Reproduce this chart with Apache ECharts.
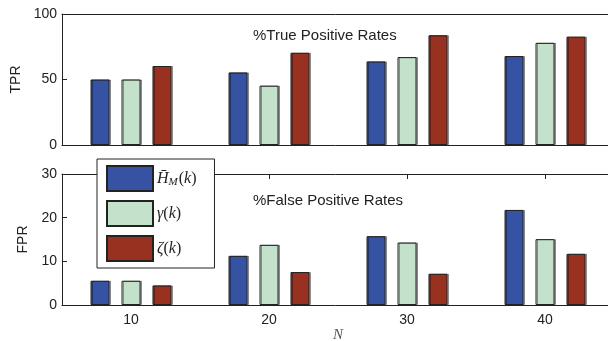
<!DOCTYPE html>
<html>
<head>
<meta charset="utf-8">
<script src="https://cdn.jsdelivr.net/npm/echarts@6/dist/echarts.min.js"></script>
<style>
  html, body { margin: 0; padding: 0; background: #fff; }
  #chart { width: 608px; height: 341px; }
</style>
</head>
<body>
<div id="chart"></div>
<script>
// N values on the x axis
var categories = ['10', '20', '30', '40'];
var seriesNames = ['HM', 'gamma', 'zeta'];

// %True Positive Rates
var tprHM = [50, 55.4, 63.8, 67.9];
var tprGamma = [50, 45.3, 67.1, 78];
var tprZeta = [60.3, 70.4, 83.8, 82.7];

// %False Positive Rates
var fprHM = [5.55, 11.26, 15.76, 21.77];
var fprGamma = [5.55, 13.78, 14.3, 15.08];
var fprZeta = [4.48, 7.54, 7.15, 11.72];

var colors = ['#3652a3', '#c4e1cb', '#98311f'];
var ink = '#222';
var font = 'Liberation Sans';

function axisBase(extra) {
    var o = {
        type: 'category',
        data: categories,
        boundaryGap: true,
        axisLine: {show: true, lineStyle: {color: ink, width: 1}},
        axisTick: {show: false},
        axisLabel: {show: false},
        splitLine: {show: false}
    };
    for (var k in extra) o[k] = extra[k];
    return o;
}

function yBase(max, interval, name, gap) {
    return {
        type: 'value',
        min: 0,
        max: max,
        interval: interval,
        name: name,
        nameLocation: 'middle',
        nameGap: gap,
        nameTextStyle: {color: ink, fontSize: 14, fontFamily: font},
        axisLine: {show: true, lineStyle: {color: ink, width: 1}},
        axisTick: {show: true, inside: true, length: 5, lineStyle: {color: ink}},
        axisLabel: {color: ink, fontSize: 14, fontFamily: font, margin: 5},
        splitLine: {show: false}
    };
}

function bar(name, data, idx, xi, yi) {
    return {
        name: name,
        type: 'bar',
        xAxisIndex: xi,
        yAxisIndex: yi,
        data: data,
        barWidth: 19,
        barGap: '63%',
        itemStyle: {
            color: colors[idx],
            borderColor: ink,
            borderWidth: 1,
            shadowColor: 'rgba(0,0,0,0.35)',
            shadowOffsetX: 1.5,
            shadowBlur: 0
        }
    };
}

var legendLabels = {
    HM: '{i|H\u0304}{s|M}{r|(}{i|k}{r|)}',
    gamma: '{i|\u03b3}{r|(}{i|k}{r|)}',
    zeta: '{i|\u03b6}{r|(}{i|k}{r|)}'
};

var option = {
    animation: false,
    backgroundColor: '#fff',
    title: [
        {text: '%True Positive Rates', left: 253, top: 28, padding: 0,
         textStyle: {color: ink, fontSize: 15, fontWeight: 'normal', fontFamily: font}},
        {text: '%False Positive Rates', left: 253, top: 193, padding: 0,
         textStyle: {color: ink, fontSize: 15, fontWeight: 'normal', fontFamily: font}}
    ],
    grid: [
        {left: 62, width: 552, top: 14, height: 131, outerBoundsMode: 'none'},
        {left: 62, width: 552, top: 174, height: 131, outerBoundsMode: 'none'}
    ],
    xAxis: [
        axisBase({gridIndex: 0, position: 'bottom'}),
        axisBase({gridIndex: 0, position: 'top'}),
        axisBase({
            gridIndex: 1, position: 'bottom',
            name: 'N', nameLocation: 'middle', nameGap: 23,
            nameTextStyle: {color: '#555', fontSize: 15, fontStyle: 'italic', fontFamily: 'Liberation Serif'},
            axisTick: {show: true, inside: true, alignWithLabel: true, length: 5, lineStyle: {color: ink}},
            axisLabel: {show: true, color: ink, fontSize: 14, fontFamily: font, margin: 8}
        }),
        axisBase({
            gridIndex: 1, position: 'top',
            axisTick: {show: true, inside: true, alignWithLabel: true, length: 5, lineStyle: {color: ink}}
        })
    ],
    yAxis: [
        Object.assign(yBase(100, 50, 'TPR', 30), {gridIndex: 0}),
        Object.assign(yBase(30, 10, 'FPR', 23), {gridIndex: 1})
    ],
    legend: {
        data: seriesNames,
        orient: 'vertical',
        left: 97,
        top: 159,
        padding: [6, 18, 6, 9],
        itemWidth: 46,
        itemHeight: 25,
        itemGap: 8,
        icon: 'rect',
        borderColor: ink,
        borderWidth: 1,
        backgroundColor: '#fff',
        selectedMode: false,
        formatter: function (name) { return legendLabels[name]; },
        textStyle: {
            color: ink,
            padding: [0, 0, 0, -1],
            rich: {
                i: {fontFamily: 'Liberation Serif', fontStyle: 'italic', fontSize: 16, color: ink},
                r: {fontFamily: 'Liberation Serif', fontSize: 16, color: ink},
                s: {fontFamily: 'Liberation Serif', fontStyle: 'italic', fontSize: 11, color: ink, padding: [7, 1, 0, 0]}
            }
        }
    },
    series: [
        bar('HM', tprHM, 0, 0, 0),
        bar('gamma', tprGamma, 1, 0, 0),
        bar('zeta', tprZeta, 2, 0, 0),
        bar('HM', fprHM, 0, 2, 1),
        bar('gamma', fprGamma, 1, 2, 1),
        bar('zeta', fprZeta, 2, 2, 1)
    ]
};

echarts.init(document.getElementById('chart'), null, {renderer: 'canvas'}).setOption(option);
</script>
</body>
</html>
